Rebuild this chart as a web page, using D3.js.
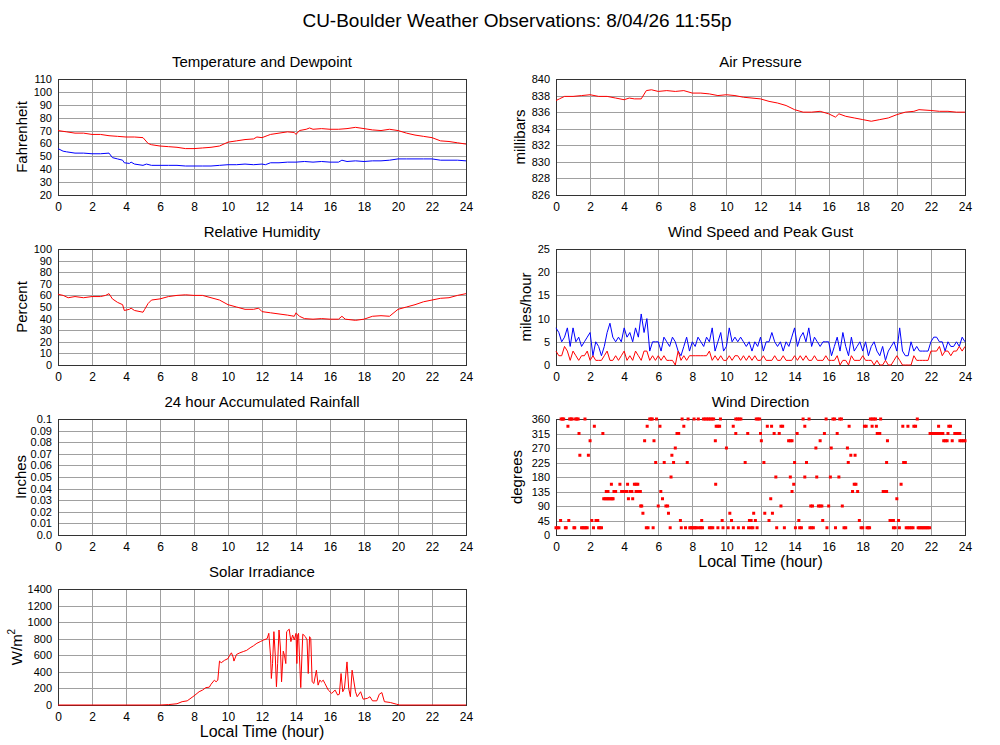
<!DOCTYPE html>
<html>
<head>
<meta charset="utf-8">
<script src="https://cdn.jsdelivr.net/npm/d3@7"></script>
<style>
  body { margin: 0; background: #fff; }
  svg { font-family: "Liberation Sans", Arial, Helvetica, sans-serif; }
</style>
</head>
<body>
<svg id="chart" width="1000" height="745"></svg>
<script>
// ---- data ----
const hourTicks = [0, 2, 4, 6, 8, 10, 12, 14, 16, 18, 20, 22, 24];

const tempTicks = [20, 30, 40, 50, 60, 70, 80, 90, 100, 110];
const pressTicks = [826, 828, 830, 832, 834, 836, 838, 840];
const rhTicks = [0, 10, 20, 30, 40, 50, 60, 70, 80, 90, 100];
const windTicks = [0, 5, 10, 15, 20, 25];
const rainTicks = [0, 0.01, 0.02, 0.03, 0.04, 0.05, 0.06, 0.07, 0.08, 0.09, 0.1];
const rainLabels = ["0.0", "0.01", "0.02", "0.03", "0.04", "0.05", "0.06", "0.07", "0.08", "0.09", "0.1"];
const dirTicks = [0, 45, 90, 135, 180, 225, 270, 315, 360];
const solarTicks = [0, 200, 400, 600, 800, 1000, 1200, 1400];

// [hour, degF]
const temperature = [
  [0,70],[0.5,69],[1,68],[1.5,68],[2,67],[2.5,67],[3,66],[3.5,65.5],[4,65],[4.5,65],[5,64.5],[5.3,60],
  [5.5,59],[6,58],[6.5,57.5],[7,57],[7.5,56],[8,56],[8.5,56.5],[9,57],[9.5,58],[10,61],[10.5,62],
  [11,63],[11.5,63.5],[11.7,65],[12,64.5],[12.3,66],[12.5,67],[13,68],[13.5,69],[13.9,68.5],[14,67],
  [14.2,70],[14.6,71],[14.8,72],[15,71],[15.5,71.5],[16,71],[16.5,71],[17,71.5],[17.5,72.5],[18,71.5],
  [18.5,70.5],[19,70],[19.5,71],[20,70],[20.5,68],[21,66.5],[21.5,65.5],[22,64.5],[22.5,62],[23,61.5],
  [23.5,60.5],[24,59.5]
];
const dewpoint = [
  [0,56],[0.3,54],[0.5,53.5],[1,52.5],[1.5,52.5],[2,52],[2.5,52],[3,52.5],[3.2,49],[3.5,48],[3.8,47],
  [3.9,45],[4.2,44.5],[4.3,45.5],[4.5,44],[5,43],[5.2,44],[5.5,43],[6,43],[6.5,43],[7,43],[7.5,42.5],
  [8,42.5],[8.5,42.5],[9,42.5],[9.5,43],[10,43.5],[10.5,43.5],[11,44],[11.5,43.5],[12,44],[12.2,43.5],
  [12.5,45],[13,45],[13.5,45.5],[14,45.5],[14.5,46],[15,45.5],[15.5,46],[16,45.5],[16.5,45.5],[16.7,47],
  [17,46],[17.5,46.5],[18,46],[18.5,46.5],[19,46.5],[19.5,47],[20,48],[20.5,48],[21,48],[21.5,48],
  [22,48],[22.5,47],[23,47],[23.5,47],[24,46.5]
];
// [hour, mb]
const pressure = [
  [0,837.4],[0.2,837.6],[0.5,837.9],[1,837.9],[1.5,838],[2,838.1],[2.5,837.9],[3,837.9],[3.5,837.7],
  [4,837.5],[4.3,837.7],[4.6,837.6],[5,837.6],[5.3,838.6],[5.6,838.7],[6,838.5],[6.5,838.6],[7,838.5],
  [7.5,838.6],[8,838.3],[8.5,838.3],[9,838.2],[9.5,838],[10,838.1],[10.5,838],[11,837.8],[11.5,837.7],
  [12,837.6],[12.5,837.3],[13,837.1],[13.5,836.8],[14,836.3],[14.5,836],[15,836],[15.5,836.1],[16,835.8],
  [16.4,835.4],[16.6,835.8],[17,835.5],[17.5,835.3],[18,835.1],[18.5,834.9],[19,835.1],[19.5,835.3],
  [20,835.7],[20.5,836],[21,836.1],[21.3,836.3],[22,836.2],[22.5,836.1],[23,836.1],[23.5,836],[24,836]
];
// [hour, %]
const humidity = [
  [0,61],[0.3,60],[0.6,58],[1,59],[1.5,58],[2,59],[2.5,59],[2.8,60],[3,61.5],[3.2,57],[3.5,54],[3.8,52],
  [3.9,47],[4.2,48],[4.3,49],[4.5,47],[5,45.5],[5.1,48],[5.3,53],[5.5,56],[6,57],[6.5,59],[7,60],
  [7.5,60.5],[8,60],[8.5,60],[9,58],[9.5,56],[10,52],[10.5,50],[11,48],[11.5,48],[11.8,49],[12,46],
  [12.5,45],[13,44],[13.5,43],[13.9,42],[14,45],[14.2,42],[14.5,40],[15,39.5],[15.5,40],[16,39.5],
  [16.5,39.5],[16.7,42],[16.9,39.5],[17.5,38.5],[18,39.5],[18.5,42],[19,42.5],[19.5,42],[20,48],
  [20.5,50],[21,52],[21.5,54.5],[22,56],[22.5,57.5],[23,58],[23.5,60],[24,61.5]
];
// 10-minute samples, mph
const windTimes = d3.range(145).map(i => i / 6);
const windGust = [
  8,7,5,6,8,4, 8,5,6,4,5,6, 7,2,5,4,2,4, 7,9,6,5,6,5, 8,6,7,5,8,6, 11,7,10,3,5,5,
  5,3,6,5,4,6, 5,3,2,4,6,3, 5,4,6,5,4,6, 5,8,3,5,7,3, 4,8,5,6,5,6, 5,4,5,3,5,4,
  6,3,5,5,7,5, 4,5,3,5,4,6, 8,4,6,7,5,8, 4,6,5,4,5,5, 5,2,4,6,3,7, 4,2,6,3,4,5,
  3,5,2,4,5,3, 2,4,1,3,4,5, 3,8,3,2,2,5, 3,4,3,3,3,3, 5,6,6,5,5,3, 5,4,4,5,4,6, 5
];
const windSpeed = [
  3,2,2,4,3,1, 3,2,1,2,2,3, 1,2,1,1,1,2, 3,1,1,2,1,2, 3,1,2,1,3,2, 1,3,3,1,2,1,
  2,1,2,1,1,1, 0,3,1,2,1,2, 2,2,2,2,2,2, 3,1,2,1,2,1, 1,2,1,2,2,1, 2,1,2,1,2,1,
  1,2,1,1,1,2, 1,1,2,1,1,1, 2,1,2,1,2,1, 1,2,1,1,1,2, 1,1,1,2,0,1, 1,0,2,1,1,1,
  2,1,1,1,0,1, 0,0,1,0,0,1, 2,1,0,0,0,0, 2,1,1,1,1,1, 3,3,3,4,2,3, 3,2,3,3,4,3, 4
];
// [degrees, hours observed at that direction]
const windDirObs = [
  [22.5, [0,0.08,0.17,0.55,0.6,1.05,1.1,1.5,1.58,1.67,1.75,1.83,2.2,2.5,2.58,2.67,5.3,5.4,5.7,6.7,7.35,
          7.6,7.85,7.93,8.0,8.1,8.17,8.25,8.4,8.5,8.6,9.0,9.1,9.2,9.5,9.8,10.1,10.4,10.7,11.0,11.3,11.45,
          11.55,11.8,12.95,13.4,14.05,14.3,14.4,14.9,15.0,15.1,15.9,16.4,16.9,17.0,17.9,18.0,18.25,18.33,
          18.4,19.8,19.9,20.15,20.55,20.65,20.75,20.85,20.95,21.25,21.33,21.42,21.5,21.58,21.67,21.75,
          21.83,21.92]],
  [45, [0.27,0.75,2.1,2.35,2.45,7.3,8.55,9.75,10.3,11.35,11.45,11.7,12.5,14.25,15.65,17.8,19.6,19.7,19.8,20.1]],
  [67.5, [5.1,6.6,10.2,11.6,12.25,12.7]],
  [90, [4.97,5.03,6.0,6.45,6.55,13.2,14.95,15.05,15.4,15.5,15.6,16.0,16.8]],
  [112.5, [2.8,2.88,2.97,3.05,3.13,3.22,3.3,3.35,4.25,4.5,6.25,12.6,20.0]],
  [135, [2.95,3.05,3.4,3.5,3.85,3.93,4.0,4.08,4.15,4.35,4.45,4.7,4.8,4.88,4.95,6.15,13.85,17.4,17.7,19.2,19.3,19.4]],
  [157.5, [3.25,3.75,4.2,4.6,4.7,4.8,9.37,13.95,17.5,17.6,20.25]],
  [180, [6.75,12.9,13.75,14.6,15.3,16.1,16.6]],
  [225, [5.85,6.35,6.9,7.7,11.1,12.2,14.0,14.7,17.15,19.4,20.4,20.5]],
  [247.5, [1.4,1.9,6.8,17.3,17.55]],
  [270, [7.0,10.0,15.25,16.15,17.1]],
  [292.5, [2.0,5.2,5.75,9.35,12.05,13.65,13.75,13.85,15.5,19.45,22.75,22.85,22.95,23.25,23.7,23.8,23.9,24.0]],
  [315, [1.35,2.75,7.1,7.2,10.55,11.25,12.0,12.8,13.1,14.15,15.75,16.5,18.85,18.95,19.0,21.95,22.03,22.12,
         22.2,22.28,22.37,22.45,22.53,22.62,22.7,23.0,23.4,23.5,23.6,23.7]],
  [337.5, [0.7,2.25,5.35,6.1,7.5,9.4,9.5,9.6,10.4,12.4,12.65,13.2,13.3,14.6,17.2,18.1,18.2,18.55,18.8,20.35,
           20.65,21.0,21.1,22.45,23.05,23.15]],
  [360, [0.3,0.38,0.45,0.8,0.88,0.95,1.15,1.22,1.3,1.7,5.5,5.58,5.65,5.9,7.4,7.75,8.1,8.35,8.65,8.75,8.85,
         8.95,9.05,9.15,9.25,9.65,10.55,10.65,10.75,10.85,11.75,11.85,11.95,14.5,14.85,15.85,16.25,16.35,
         16.65,16.75,18.45,18.55,18.65,18.75,19.05,21.2]]
];
// [hour, W/m^2]
const solar = [
  [0,0],[6,0],[6.5,5],[7,15],[7.3,40],[7.6,50],[8,110],[8.3,160],[8.5,180],[8.7,210],[8.9,215],[9.0,250],
  [9.2,300],[9.3,280],[9.4,300],[9.5,530],[9.6,510],[9.8,540],[10.0,560],[10.1,600],[10.2,630],[10.3,580],
  [10.35,530],[10.5,610],[10.7,630],[10.9,645],[11.1,660],[11.3,690],[11.5,715],[11.7,745],[11.9,765],
  [12.1,785],[12.3,800],[12.4,865],[12.5,600],[12.55,320],[12.62,500],[12.7,885],[12.78,600],[12.85,220],
  [12.92,500],[13.0,905],[13.08,700],[13.15,280],[13.25,650],[13.32,600],[13.4,500],[13.45,885],[13.6,915],
  [13.7,765],[13.8,845],[13.9,785],[14.0,865],[14.05,500],[14.1,845],[14.15,865],[14.2,600],[14.28,210],
  [14.35,600],[14.4,855],[14.55,825],[14.65,785],[14.72,380],[14.8,825],[14.87,800],[14.95,280],[15.05,260],
  [15.2,420],[15.3,240],[15.4,300],[15.5,280],[15.6,300],[15.7,260],[15.9,180],[16.1,140],[16.3,180],
  [16.45,120],[16.55,130],[16.65,380],[16.75,160],[16.85,200],[17.0,520],[17.1,200],[17.2,100],[17.3,420],
  [17.5,160],[17.6,100],[17.8,160],[17.95,70],[18.2,80],[18.35,100],[18.5,50],[18.75,50],[18.9,130],
  [19.05,150],[19.2,40],[19.55,30],[19.9,10],[20.1,0],[24,0]
];

// ---- layout ----
const colX = [[58, 466], [556, 965]];
const rowTop = [79, 249, 419, 589];
const plotH = 116;

const svg = d3.select("#chart");

svg.append("text")
  .attr("x", 517).attr("y", 27)
  .attr("text-anchor", "middle")
  .style("font-size", "19px")
  .text("CU-Boulder Weather Observations: 8/04/26 11:55p");

// builds one framed panel with grid, tick labels and titles
function panel(col, row, cfg) {
  const [x0, x1] = colX[col];
  const y0 = rowTop[row], y1 = y0 + plotH;
  const x = d3.scaleLinear().domain([0, 24]).range([x0, x1]);
  const y = d3.scaleLinear().domain([cfg.ticks[0], cfg.ticks[cfg.ticks.length - 1]]).range([y1, y0]);
  const g = svg.append("g");

  // grid
  g.append("g")
    .attr("transform", `translate(0,${y1})`)
    .call(d3.axisBottom(x).tickValues(hourTicks).tickSize(-plotH).tickFormat(""))
    .call(a => a.select(".domain").remove())
    .selectAll("line").attr("stroke", "#a0a0a0").attr("shape-rendering", "crispEdges");
  g.append("g")
    .attr("transform", `translate(${x0},0)`)
    .call(d3.axisLeft(y).tickValues(cfg.ticks).tickSize(-(x1 - x0)).tickFormat(""))
    .call(a => a.select(".domain").remove())
    .selectAll("line").attr("stroke", "#a0a0a0").attr("shape-rendering", "crispEdges");

  // frame
  g.append("rect")
    .attr("x", x0).attr("y", y0).attr("width", x1 - x0).attr("height", plotH)
    .attr("fill", "none").attr("stroke", "#333").attr("shape-rendering", "crispEdges");

  // tick labels
  const yAx = g.append("g")
    .attr("transform", `translate(${x0},0)`)
    .call(d3.axisLeft(y).tickValues(cfg.ticks).tickSize(0).tickPadding(6)
      .tickFormat((d, i) => cfg.labels ? cfg.labels[i] : d));
  const xAx = g.append("g")
    .attr("transform", `translate(0,${y1})`)
    .call(d3.axisBottom(x).tickValues(hourTicks).tickSize(0).tickPadding(7.5));
  yAx.attr("font-size", 11);
  xAx.attr("font-size", 12);
  [yAx, xAx].forEach(a => {
    a.select(".domain").remove();
    a.attr("font-family", null);
    a.selectAll("text").attr("fill", "#000");
  });

  // titles
  g.append("text")
    .attr("x", (x0 + x1) / 2).attr("y", y0 - 12)
    .attr("text-anchor", "middle")
    .style("font-size", "15px")
    .text(cfg.title);

  const yl = g.append("text")
    .attr("transform", `translate(${cfg.labelX},${(y0 + y1) / 2}) rotate(-90)`)
    .attr("text-anchor", "middle")
    .style("font-size", "15px");
  if (cfg.super) {
    yl.append("tspan").text(cfg.yLabel);
    yl.append("tspan").attr("dy", -7).style("font-size", "10px").text(cfg.super);
  } else {
    yl.text(cfg.yLabel);
  }

  if (cfg.xLabel) {
    g.append("text")
      .attr("x", (x0 + x1) / 2).attr("y", y1 + 32)
      .attr("text-anchor", "middle")
      .style("font-size", "16px")
      .text("Local Time (hour)");
  }
  return { g, x, y };
}

function drawLine(p, data, color) {
  p.g.append("path")
    .datum(data)
    .attr("fill", "none")
    .attr("stroke", color)
    .attr("stroke-width", 1)
    .attr("stroke-linejoin", "round")
    .attr("d", d3.line().x(d => p.x(d[0])).y(d => p.y(d[1])));
}

// Temperature and Dewpoint
const pT = panel(0, 0, { title: "Temperature and Dewpoint", yLabel: "Fahrenheit", labelX: 27, ticks: tempTicks });
drawLine(pT, dewpoint, "#0000ff");
drawLine(pT, temperature, "#ff0000");

// Air Pressure
const pP = panel(1, 0, { title: "Air Pressure", yLabel: "millibars", labelX: 525, ticks: pressTicks });
drawLine(pP, pressure, "#ff0000");

// Relative Humidity
const pH = panel(0, 1, { title: "Relative Humidity", yLabel: "Percent", labelX: 27, ticks: rhTicks });
drawLine(pH, humidity, "#ff0000");

// Wind Speed and Peak Gust
const pW = panel(1, 1, { title: "Wind Speed and Peak Gust", yLabel: "miles/hour", labelX: 531, ticks: windTicks });
drawLine(pW, windTimes.map((t, i) => [t, windGust[i]]), "#0000ff");
drawLine(pW, windTimes.map((t, i) => [t, windSpeed[i]]), "#ff0000");

// Rainfall (no rain recorded)
panel(0, 2, { title: "24 hour Accumulated Rainfall", yLabel: "Inches", labelX: 26, ticks: rainTicks, labels: rainLabels });

// Wind Direction
const pD = panel(1, 2, { title: "Wind Direction", yLabel: "degrees", labelX: 522, ticks: dirTicks, xLabel: true });
const dirPoints = windDirObs.flatMap(([deg, hrs]) => hrs.map(h => [h, deg]));
pD.g.selectAll(".dir")
  .data(dirPoints)
  .enter()
  .append("rect")
  .attr("class", "dir")
  .attr("x", d => pD.x(d[0]) - 1.5)
  .attr("y", d => pD.y(d[1]) - 1.5)
  .attr("width", 3)
  .attr("height", 3)
  .attr("fill", "#ff0000");

// Solar Irradiance
const pS = panel(0, 3, { title: "Solar Irradiance", yLabel: "W/m", super: "2", labelX: 22, ticks: solarTicks, xLabel: true });
drawLine(pS, solar, "#ff0000");
</script>
</body>
</html>
